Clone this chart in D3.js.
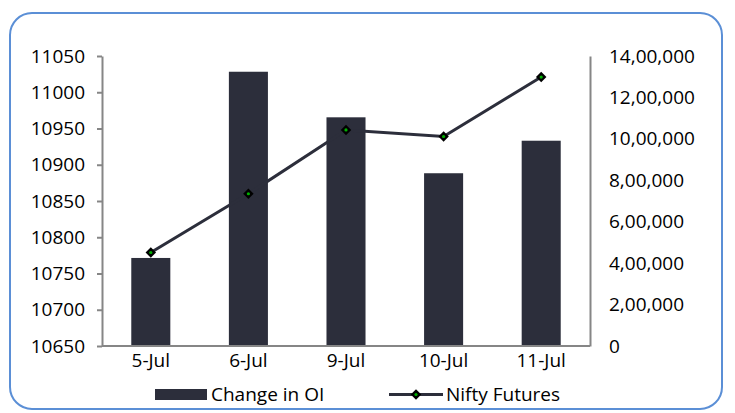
<!DOCTYPE html>
<html>
<head>
<meta charset="utf-8">
<script src="https://cdn.jsdelivr.net/npm/d3@7"></script>
<style>
  body { margin: 0; background: #fff; }
  svg text { font-family: "Open Sans", sans-serif; fill: #000; }
</style>
</head>
<body>
<div class="chart"></div>
<script>
// size of the page picture
const w = 735;
const h = 413;

// data
const days = ["5-Jul", "6-Jul", "9-Jul", "10-Jul", "11-Jul"];
const changeInOI = [425000, 1324000, 1104000, 834000, 991000];
const niftyFutures = [10779, 10860, 10948, 10939, 11021];
const leftTicks = [10650, 10700, 10750, 10800, 10850, 10900, 10950, 11000, 11050];
const rightTicks = [0, 200000, 400000, 600000, 800000, 1000000, 1200000, 1400000];

const barColor = "#2c2e3b";
const axisColor = "#868686";

// plot box
const plotLeft = 102, plotRight = 590, plotTop = 56, plotBottom = 346;

const svg = d3.select(".chart").append("svg")
    .attr("width", w)
    .attr("height", h);

// outer rounded border
svg.append("rect")
    .attr("x", 10).attr("y", 13)
    .attr("width", 712).attr("height", 396)
    .attr("rx", 22).attr("ry", 22)
    .attr("fill", "#fff")
    .attr("stroke", "#5b8fd6")
    .attr("stroke-width", 2);

const xScale = d3.scaleBand()
    .domain(days)
    .range([plotLeft, plotRight])
    .paddingInner(0.6)
    .paddingOuter(0.3);

const yLeft = d3.scaleLinear()
    .domain([10650, 11050])
    .range([plotBottom, plotTop]);

const yRight = d3.scaleLinear()
    .domain([0, 1400000])
    .range([plotBottom, plotTop]);

// indian grouping 14,00,000
function indian(n) {
    let s = String(Math.round(n));
    if (s.length <= 3) return s;
    let last = s.slice(-3);
    let rest = s.slice(0, -3);
    rest = rest.replace(/\B(?=(\d{2})+(?!\d))/g, ",");
    return rest + "," + last;
}

// bars
svg.selectAll(".bar")
    .data(changeInOI)
    .enter()
    .append("rect")
    .attr("class", "bar")
    .attr("x", (d, i) => xScale(days[i]))
    .attr("y", d => yRight(d))
    .attr("width", xScale.bandwidth())
    .attr("height", d => plotBottom - yRight(d))
    .attr("fill", barColor);

// left axis
const leftAxis = svg.append("g")
    .attr("transform", "translate(" + plotLeft + ",0)")
    .call(d3.axisLeft(yLeft).tickValues(leftTicks).tickFormat(d3.format("d"))
        .tickSize(5).tickPadding(12).tickSizeOuter(0));
leftAxis.select(".domain").attr("stroke", axisColor).attr("stroke-width", 2);
leftAxis.selectAll(".tick line").attr("stroke", axisColor).attr("stroke-width", 2);
leftAxis.selectAll("text").style("font-size", "19px").attr("fill", "#000");

// right axis
const rightAxis = svg.append("g")
    .attr("transform", "translate(" + plotRight + ",0)")
    .call(d3.axisRight(yRight).tickValues(rightTicks).tickSize(0).tickPadding(19).tickFormat(indian));
rightAxis.select(".domain").attr("stroke", axisColor).attr("stroke-width", 2);
rightAxis.selectAll("text").style("font-size", "19px").attr("fill", "#000");

// bottom axis
const bottomAxis = svg.append("g")
    .attr("transform", "translate(0," + plotBottom + ")")
    .call(d3.axisBottom(xScale).tickSize(0).tickPadding(8).tickSizeOuter(0));
bottomAxis.select(".domain").attr("stroke", axisColor).attr("stroke-width", 2)
    .attr("d", "M" + plotLeft + ",0H" + plotRight);
bottomAxis.selectAll("text").style("font-size", "19px").attr("fill", "#000");

// line
const line = d3.line()
    .x((d, i) => xScale(days[i]) + xScale.bandwidth() / 2)
    .y(d => yLeft(d));

svg.append("path")
    .datum(niftyFutures)
    .attr("d", line)
    .attr("fill", "none")
    .attr("stroke", barColor)
    .attr("stroke-width", 3);

const diamond = d3.symbol().type(d3.symbolDiamond2).size(70);

function marker(g, x, y) {
    g.append("path")
        .attr("d", diamond)
        .attr("transform", "translate(" + x + "," + y + ")")
        .attr("fill", "#000");
    g.append("circle")
        .attr("cx", x).attr("cy", y).attr("r", 1.6)
        .attr("fill", "#00b000");
}

const markers = svg.append("g");
niftyFutures.forEach((d, i) => {
    marker(markers, xScale(days[i]) + xScale.bandwidth() / 2, yLeft(d));
});

// legend
const legend = svg.append("g");
legend.append("rect")
    .attr("x", 155).attr("y", 389)
    .attr("width", 52).attr("height", 11)
    .attr("fill", barColor);
legend.append("text")
    .attr("x", 211).attr("y", 401)
    .style("font-size", "19px")
    .text("Change in OI");
legend.append("line")
    .attr("x1", 389).attr("x2", 443)
    .attr("y1", 394.5).attr("y2", 394.5)
    .attr("stroke", barColor)
    .attr("stroke-width", 3);
marker(legend, 416, 394.5);
legend.append("text")
    .attr("x", 446).attr("y", 401)
    .style("font-size", "19px")
    .text("Nifty Futures");
</script>
</body>
</html>
